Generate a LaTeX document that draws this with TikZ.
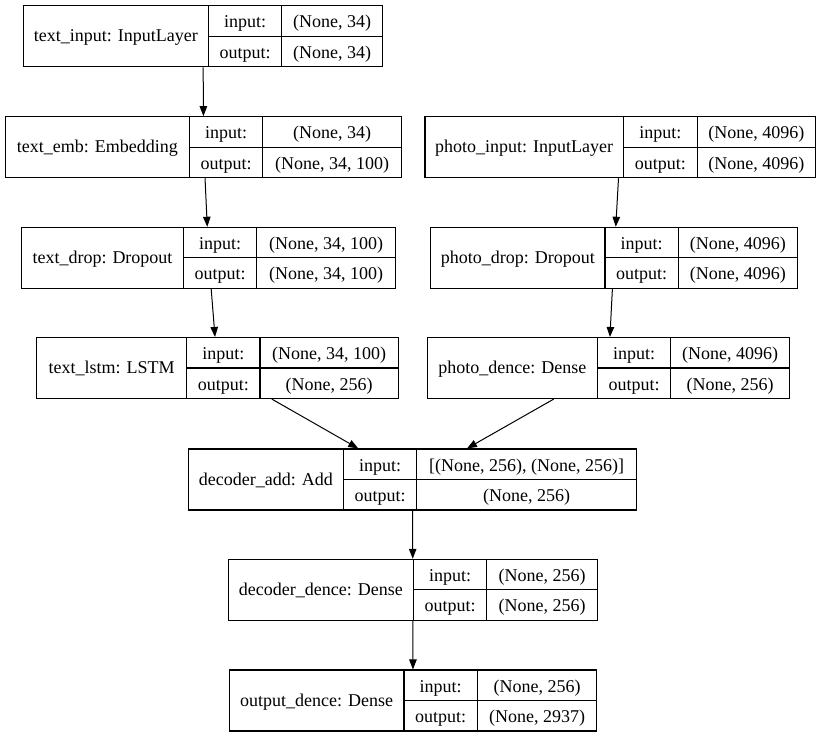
\documentclass[tikz,border=0pt]{standalone}
\usepackage{fontspec}
\setmainfont{Liberation Serif}
\usetikzlibrary{arrows.meta,fit}

% one keras layer: name, left, divider1, divider2, right, top, label, input shape, output shape
\newcommand{\layer}[9]{%
	\coordinate (#1-nw) at (#2,#6);
	\coordinate (#1-se) at (#5,{#6+61});
	\node[layerbox, fit=(#1-nw)(#1-se)] (#1) {};
	\draw[cell] (#3,#6) -- (#3,{#6+61});
	\draw[cell] (#4,#6) -- (#4,{#6+61});
	\draw[cell] (#3,{#6+30.5}) -- (#5,{#6+30.5});
	\node[celltext] (#1-label) at ({(#2+#3)/2},{#6+36}) {#7};
	\node[celltext] (#1-inkey) at ({(#3+#4)/2},{#6+22}) {input:};
	\node[celltext] (#1-outkey) at ({(#3+#4)/2},{#6+52.5}) {output:};
	\node[celltext] (#1-in) at ({(#4+#5)/2},{#6+22}) {#8};
	\node[celltext] (#1-out) at ({(#4+#5)/2},{#6+52.5}) {#9};
}

\begin{document}
\begin{tikzpicture}[x=1pt, y=-1pt, font=\fontsize{18}{21}\selectfont,
	layerbox/.style={draw=black, line width=1.1pt, inner sep=0pt},
	cell/.style={draw=black, line width=1.1pt},
	celltext/.style={anchor=base, inner sep=0pt},
	edge/.style={line width=1pt, -{Triangle[length=10pt,width=7.5pt]}}]
	\useasboundingbox[fill=white] (0,0) rectangle (821,737);
	% layers
	\layer{tin}{23.3}{208.3}{281.7}{382.7}{5.7}{text\_input: InputLayer}{(None, 34)}{(None, 34)}
	\layer{temb}{5.5}{189.3}{262.7}{401.7}{116.7}{text\_emb: Embedding}{(None, 34)}{(None, 34, 100)}
	\layer{pin}{425}{623.3}{697.3}{815.5}{116.7}{photo\_input: InputLayer}{(None, 4096)}{(None, 4096)}
	\layer{tdrop}{21.7}{183.3}{256.7}{395.7}{227.3}{text\_drop: Dropout}{(None, 34, 100)}{(None, 34, 100)}
	\layer{pdrop}{430.7}{605}{678.3}{797.3}{227.3}{photo\_drop: Dropout}{(None, 4096)}{(None, 4096)}
	\layer{tlstm}{36.7}{186.7}{260}{398.3}{337.5}{text\_lstm: LSTM}{(None, 34, 100)}{(None, 256)}
	\layer{pdense}{427.3}{597.3}{670.7}{789.3}{337.5}{photo\_dence: Dense}{(None, 4096)}{(None, 256)}
	\layer{dadd}{188.3}{343.3}{416.7}{636.7}{449}{decoder\_add: Add}{[(None, 256), (None, 256)]}{(None, 256)}
	\layer{ddense}{228.3}{413.3}{486.7}{597.3}{559.3}{decoder\_dence: Dense}{(None, 256)}{(None, 256)}
	\layer{odense}{229.3}{404}{477.3}{596.7}{670}{output\_dence: Dense}{(None, 256)}{(None, 2937)}
	% connections
	\draw[edge] (tin) -- (temb);
	\draw[edge] (temb) -- (tdrop);
	\draw[edge] (tdrop) -- (tlstm);
	\draw[edge] (pin) -- (pdrop);
	\draw[edge] (pdrop) -- (pdense);
	\draw[edge] (tlstm) -- (dadd);
	\draw[edge] (pdense) -- (dadd);
	\draw[edge] (dadd) -- (ddense);
	\draw[edge] (ddense) -- (odense);
\end{tikzpicture}
\end{document}
